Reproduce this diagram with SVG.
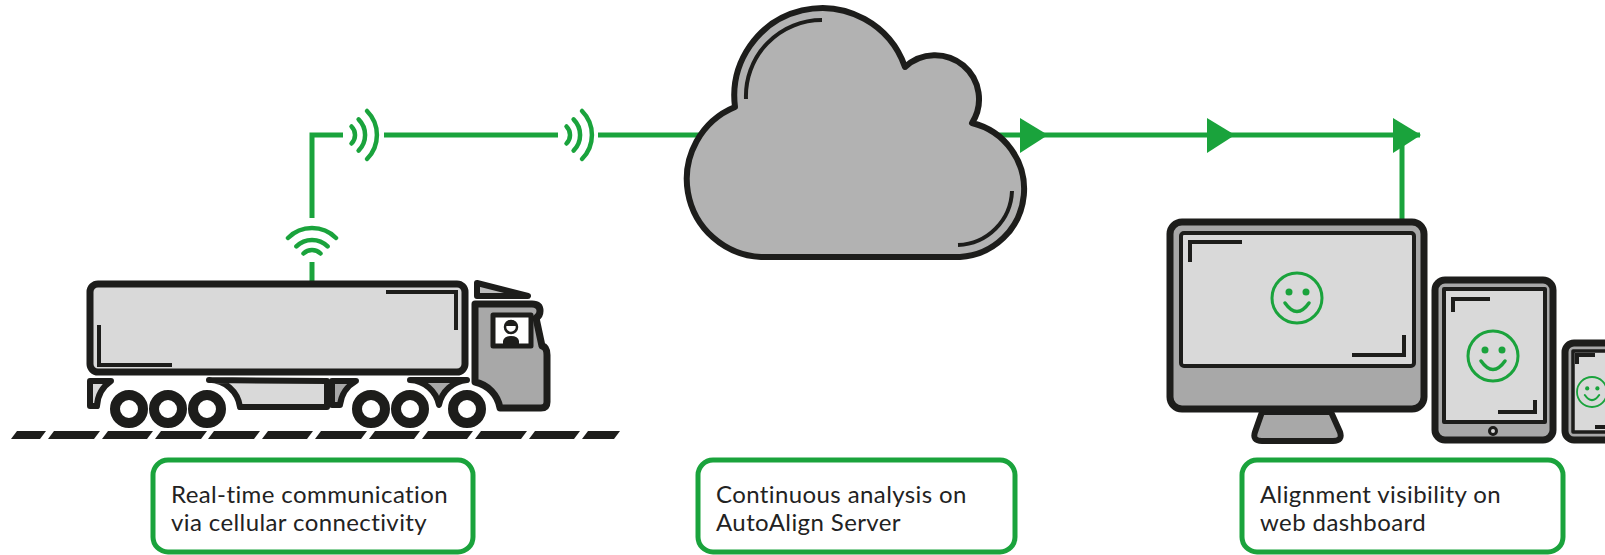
<svg xmlns="http://www.w3.org/2000/svg" width="1605" height="555" viewBox="0 0 1605 555">
<defs>
<style>
.ink{stroke:#1d1d1b;stroke-linejoin:round}
.wire{fill:none;stroke:#1aa33c;stroke-width:5}
.wave{fill:none;stroke:#1aa33c;stroke-width:4.5;stroke-linecap:round}
.head{fill:#1aa33c}
.pale{fill:#d9d9d9}
.mid{fill:#a8a8a8}
.mark{fill:none;stroke:#1d1d1b;stroke-width:4}
.wheel{fill:#fff;stroke:#1d1d1b;stroke-width:10}
.box{fill:#fff;stroke:#1aa33c;stroke-width:5}
.label{font-family:Lato,"Liberation Sans",sans-serif;font-size:24px;letter-spacing:0.4px;fill:#222}
.dash{fill:#1d1d1b}
</style>
<g id="smiley">
<circle r="25" fill="none" stroke="#1aa33c" stroke-width="3"/>
<circle cx="-8" cy="-6" r="3.5" fill="#1aa33c"/>
<circle cx="9" cy="-6" r="3.5" fill="#1aa33c"/>
<path d="M-12 5 Q0 22 12 5" fill="none" stroke="#1aa33c" stroke-width="3.5" stroke-linecap="round"/>
</g>
</defs>
<rect width="1605" height="555" fill="#fff"/>

<!-- signal path: truck antenna -> cloud -> dashboard -->
<g id="connectors">
<path class="wire" d="M312 283 V262"/>
<path class="wave" d="M288 238 A34 34 0 0 1 336 238 M296.4 246.4 A22 22 0 0 1 327.6 246.4 M303.5 253.5 A12 12 0 0 1 320.5 253.5"/>
<path class="wire" d="M312 218 V135 H343"/>
<path class="wave" d="M367 111 A34 34 0 0 1 367 159 M358.6 119.4 A22 22 0 0 1 358.6 150.6 M351.5 126.5 A12 12 0 0 1 351.5 143.5"/>
<path class="wire" d="M384 135 H558"/>
<path class="wave" d="M582 111 A34 34 0 0 1 582 159 M573.6 119.4 A22 22 0 0 1 573.6 150.6 M566.5 126.5 A12 12 0 0 1 566.5 143.5"/>
<path class="wire" d="M598 135 H720"/>
<path class="wire" d="M990 135 H1420 M1402 135 V222"/>
<polygon class="head" points="1020,118 1048,135 1020,153"/>
<polygon class="head" points="1207,118 1235,135 1207,153"/>
<polygon class="head" points="1393,118 1421,135 1393,153"/>
</g>

<!-- server cloud -->
<g id="cloud">
<path class="ink" fill="#b2b2b2" stroke-width="6" d="M761 257 A78 78 0 0 1 735 107 A87.8 87.8 0 0 1 905 67 A44 44 0 0 1 972 123 A68 68 0 0 1 960 257 Z"/>
<path class="mark" stroke-width="3" d="M822 20 A76 76 0 0 0 746 99"/>
<path class="mark" stroke-width="3" d="M1012 191 A56 56 0 0 1 958 245"/>
</g>

<!-- road -->
<g id="road">
<polygon class="dash" points="17,431 46,431 40,439 11,439"/>
<polygon class="dash" points="54,431 100,431 94,439 48,439"/>
<polygon class="dash" points="108,431 153,431 147,439 102,439"/>
<polygon class="dash" points="161,431 207,431 201,439 155,439"/>
<polygon class="dash" points="214,431 260,431 254,439 208,439"/>
<polygon class="dash" points="268,431 313,431 307,439 262,439"/>
<polygon class="dash" points="321,431 367,431 361,439 315,439"/>
<polygon class="dash" points="375,431 420,431 414,439 369,439"/>
<polygon class="dash" points="428,431 473,431 467,439 422,439"/>
<polygon class="dash" points="481,431 527,431 521,439 475,439"/>
<polygon class="dash" points="535,431 580,431 574,439 529,439"/>
<polygon class="dash" points="588,431 620,431 614,439 582,439"/>
</g>

<!-- truck -->
<g id="truck">
<rect class="ink pale" x="90" y="284" width="375" height="88" rx="8" stroke-width="7"/>
<path class="mark" stroke-width="3.5" d="M386 292 H456 V330"/>
<path class="mark" stroke-width="3.5" d="M99 325 V365 H172"/>
<path class="ink pale" stroke-width="6" d="M90 381 H111 A32 32 0 0 0 97 406 H90 Z"/>
<path class="ink pale" stroke-width="6" d="M209 380 A31 31 0 0 1 240 407 H327 V381 Z"/>
<path class="ink mid" stroke-width="6" d="M332 381 H356 A32 32 0 0 0 340 405 H332 Z"/>
<path class="ink mid" stroke-width="6" d="M410 380 A31 31 0 0 1 439 405 A31 31 0 0 1 467 380 Z"/>
<path class="ink" fill="#bdbdbd" stroke-width="6" d="M477 283 L528 296 L477 296 Z"/>
<path class="ink mid" stroke-width="7" d="M475 304 H532 Q540 304 540 311 Q540 316 536 318 L542 346 Q547 347 547 355 V402 Q547 408 541 408 H500 A32 32 0 0 0 475 382 Z"/>
<rect class="ink" fill="#fff" x="493" y="315" width="38" height="31" stroke-width="5"/>
<circle cx="511" cy="327" r="6" fill="#fff" stroke="#1d1d1b" stroke-width="2.5"/>
<path fill="#1d1d1b" d="M505 326 A6 6 0 0 1 517 326 Z"/>
<path fill="#1d1d1b" d="M503 344 V341 Q504 336 511 336 Q518 336 519 341 V344 Z"/>
<circle class="wheel" cx="129" cy="409" r="14"/>
<circle class="wheel" cx="168" cy="409" r="14"/>
<circle class="wheel" cx="207" cy="409" r="14"/>
<circle class="wheel" cx="371" cy="409" r="14"/>
<circle class="wheel" cx="410" cy="409" r="14"/>
<circle class="wheel" cx="467" cy="409" r="14"/>
</g>

<!-- desktop monitor -->
<g id="monitor">
<path class="ink mid" stroke-width="6" d="M1262 412 L1255 432 Q1252 441 1262 441 L1333 441 Q1343 441 1340 432 L1331 412 Z"/>
<rect class="ink mid" x="1170" y="222" width="254" height="187" rx="12" stroke-width="7"/>
<rect class="ink pale" x="1181" y="233" width="233" height="133" rx="3" stroke-width="4"/>
<path class="mark" d="M1190 262 V242 H1242"/>
<path class="mark" d="M1352 355 H1404 V335"/>
<use href="#smiley" transform="translate(1297 298)"/>
</g>

<!-- tablet -->
<g id="tablet">
<rect class="ink mid" x="1435" y="280" width="118" height="160" rx="10" stroke-width="7"/>
<rect class="ink pale" x="1444" y="289" width="101" height="133" stroke-width="4"/>
<circle cx="1493" cy="431" r="3.5" fill="#d9d9d9" stroke="#1d1d1b" stroke-width="3"/>
<path class="mark" d="M1453 312 V299 H1490"/>
<path class="mark" d="M1498 412 H1535 V400"/>
<use href="#smiley" transform="translate(1493 356)"/>
</g>

<!-- phone -->
<g id="phone">
<rect class="ink mid" x="1565" y="343" width="60" height="97" rx="9" stroke-width="7"/>
<rect class="ink pale" x="1573" y="351" width="50" height="81" stroke-width="3.5"/>
<path class="mark" stroke-width="3" d="M1577 364 V355 H1595"/>
<path class="mark" stroke-width="3" d="M1595 427 H1610"/>
<use href="#smiley" transform="translate(1592 392) scale(0.6)"/>
</g>

<g id="label-truck">
<rect class="box" x="153" y="460" width="320" height="92" rx="15"/>
<text class="label" x="171" y="503">Real-time communication</text>
<text class="label" x="171" y="531">via cellular connectivity</text>
</g>
<g id="label-server">
<rect class="box" x="698" y="460" width="317" height="92" rx="15"/>
<text class="label" x="716" y="503">Continuous analysis on</text>
<text class="label" x="716" y="531">AutoAlign Server</text>
</g>
<g id="label-dashboard">
<rect class="box" x="1242" y="460" width="321" height="92" rx="15"/>
<text class="label" x="1260" y="503">Alignment visibility on</text>
<text class="label" x="1260" y="531">web dashboard</text>
</g>
</svg>
